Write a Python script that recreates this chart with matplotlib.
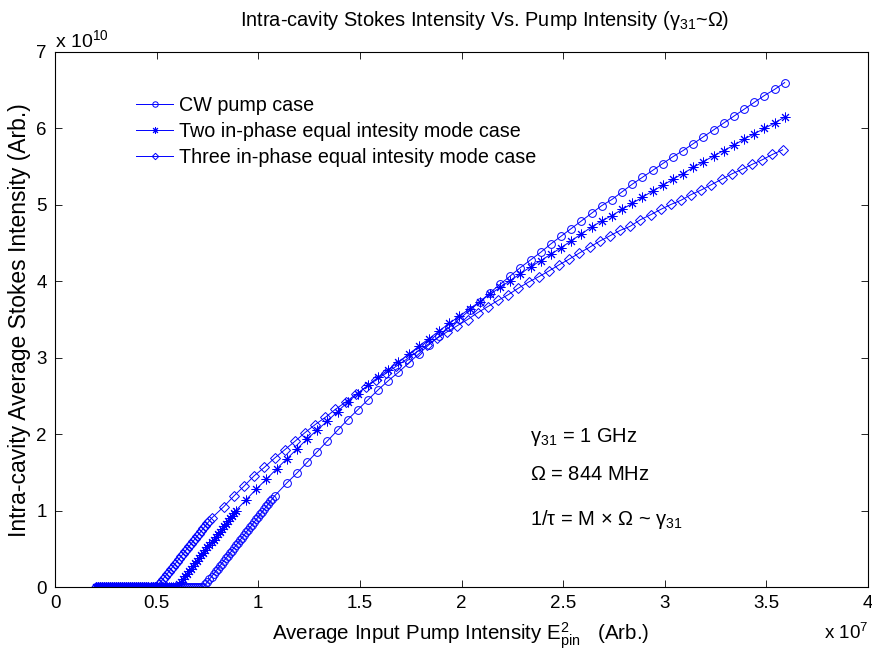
import numpy as np
import matplotlib
matplotlib.use("Agg")
import matplotlib.pyplot as plt

plt.rcParams['font.family'] = ['Liberation Sans', 'DejaVu Sans']
plt.rcParams['mathtext.fontset'] = 'custom'
plt.rcParams['mathtext.rm'] = 'Liberation Sans'
plt.rcParams['mathtext.it'] = 'Liberation Sans'
plt.rcParams['mathtext.bf'] = 'Liberation Sans'

# ---------------- data (x in units of 1e7, y in units of 1e10) ----------------
# fine sweep (step 0.01) near threshold
cw_x_fine = np.round(np.arange(0.20, 1.085, 0.01), 3)
cw_y_fine = [0.0] * 54 + [
    0.034, 0.068, 0.102, 0.136, 0.170, 0.204, 0.238, 0.272, 0.306, 0.340,
    0.374, 0.408, 0.442, 0.476, 0.510, 0.544, 0.578, 0.612, 0.646, 0.680,
    0.714, 0.748, 0.782, 0.816, 0.850, 0.884, 0.918, 0.952, 0.986, 1.020,
    1.054, 1.088, 1.122, 1.156, 1.190]
# coarse sweep (step 0.05)
cw_x_coarse = np.round(np.arange(1.14, 3.595, 0.05), 3)
cw_y_coarse = [
    1.36, 1.49, 1.63, 1.77, 1.91, 2.05, 2.19, 2.32, 2.45, 2.58,
    2.70, 2.81, 2.93, 3.05, 3.17, 3.28, 3.40, 3.51, 3.62, 3.73,
    3.85, 3.96, 4.07, 4.18, 4.28, 4.38, 4.49, 4.59, 4.69, 4.79,
    4.89, 4.99, 5.07, 5.17, 5.27, 5.36, 5.45, 5.54, 5.63, 5.71,
    5.80, 5.89, 5.98, 6.07, 6.16, 6.25, 6.34, 6.43, 6.51, 6.60]

two_x_fine = np.round(np.arange(0.20, 0.895, 0.01), 3)
two_y_fine = [0.0] * 41 + [
    0.034, 0.069, 0.103, 0.138, 0.172, 0.207, 0.241, 0.276, 0.310, 0.345,
    0.379, 0.414, 0.448, 0.483, 0.517, 0.552, 0.586, 0.621, 0.655, 0.690,
    0.724, 0.759, 0.793, 0.828, 0.862, 0.897, 0.931, 0.966, 1.000]
two_x_coarse = np.round(np.arange(0.94, 3.595, 0.05), 3)
two_y_coarse = [
    1.14, 1.28, 1.41, 1.545, 1.675, 1.805, 1.935, 2.055, 2.17, 2.295,
    2.42, 2.53, 2.64, 2.745, 2.845, 2.945, 3.045, 3.15, 3.25, 3.35,
    3.45, 3.545, 3.64, 3.735, 3.83, 3.92, 4.01, 4.10, 4.19, 4.27,
    4.355, 4.44, 4.53, 4.62, 4.71, 4.79, 4.86, 4.94, 5.02, 5.10,
    5.18, 5.255, 5.335, 5.41, 5.49, 5.565, 5.64, 5.71, 5.78, 5.86,
    5.93, 6.00, 6.07, 6.15]

three_x_fine = np.round(np.arange(0.20, 0.775, 0.01), 3)
three_y_fine = [0.0] * 31 + [
    0.033, 0.067, 0.100, 0.133, 0.167, 0.200, 0.233, 0.267, 0.300, 0.333,
    0.367, 0.400, 0.433, 0.467, 0.500, 0.533, 0.567, 0.600, 0.633, 0.667,
    0.700, 0.733, 0.767, 0.800, 0.833, 0.867, 0.900]
three_x_coarse = np.round(np.arange(0.83, 3.585, 0.05), 3)
three_y_coarse = [
    1.05, 1.19, 1.32, 1.455, 1.565, 1.685, 1.795, 1.905, 2.02, 2.125,
    2.22, 2.325, 2.42, 2.52, 2.615, 2.71, 2.80, 2.89, 2.98, 3.075,
    3.165, 3.255, 3.34, 3.42, 3.50, 3.59, 3.67, 3.75, 3.825, 3.91,
    3.99, 4.06, 4.135, 4.215, 4.29, 4.37, 4.445, 4.525, 4.595, 4.665,
    4.72, 4.805, 4.87, 4.94, 5.005, 5.06, 5.135, 5.195, 5.265, 5.335,
    5.405, 5.465, 5.53, 5.59, 5.66, 5.72]

labels = ["CW pump case",
          "Two in-phase equal intesity mode case",
          "Three in-phase equal intesity mode case"]
x_ticks = [0, 0.5, 1, 1.5, 2, 2.5, 3, 3.5, 4]
x_ticklabels = ["0", "0.5", "1", "1.5", "2", "2.5", "3", "3.5", "4"]
y_ticks = [0, 1, 2, 3, 4, 5, 6, 7]

# ---------------- figure ----------------
W, H = 872, 654
fig = plt.figure(figsize=(W / 100, H / 100), dpi=100)
ax = fig.add_axes([55 / W, 1 - 587 / H, (868 - 55) / W, (587 - 52) / H])

blue = (0, 0, 1)
series = [
    (np.concatenate([cw_x_fine, cw_x_coarse]), cw_y_fine + cw_y_coarse, 'o', 5.6),
    (np.concatenate([two_x_fine, two_x_coarse]), two_y_fine + two_y_coarse, (8, 2, 0), 7),
    (np.concatenate([three_x_fine, three_x_coarse]), three_y_fine + three_y_coarse, 'D', 4.7),
]
for (xs, ys, mk, ms), lab in zip(series, labels):
    ax.plot(xs, ys, color=blue, lw=0.7, marker=mk, ms=ms, mfc='none',
            mec=blue, mew=0.7, label=lab)

ax.set_xlim(0, 4)
ax.set_ylim(0, 7)
ax.set_xticks(x_ticks)
ax.set_xticklabels(x_ticklabels)
ax.set_yticks(y_ticks)
ax.tick_params(direction='in', top=True, right=True, length=5, width=0.6,
               labelsize=13.5, pad=6)
for s in ax.spines.values():
    s.set_linewidth(0.8)

fs = 14.2
leg = ax.legend(loc='upper left', bbox_to_anchor=(128 / W, 1 - 88 / H),
                bbox_transform=fig.transFigure, frameon=False, fontsize=fs,
                numpoints=1, handlelength=1.9, handletextpad=0.3,
                labelspacing=0.36, markerscale=0.7, borderaxespad=0)

ax.text(2.336, 1.96, r'$\mathregular{\gamma_{31}}$ = 1 GHz', fontsize=14.5, va='center')
ax.text(2.336, 1.47, r'$\mathregular{\Omega}$ = 844 MHz', fontsize=14.5, va='center')
ax.text(2.336, 0.88, r'1/$\mathregular{\tau}$ = M $\mathregular{\times}$ $\mathregular{\Omega}$ ~ $\mathregular{\gamma_{31}}$',
        fontsize=14.5, va='center')

fig.text(485 / W, 1 - 20 / H,
         r'Intra-cavity Stokes Intensity Vs. Pump Intensity ($\mathregular{\gamma_{31}}$~$\mathregular{\Omega}$)',
         ha='center', va='center', fontsize=14.4)
fig.text(461 / W, 1 - 636 / H,
         r'Average Input Pump Intensity $\mathregular{E^2_{pin}}$   (Arb.)',
         ha='center', va='center', fontsize=14.8)
fig.text(20 / W, 1 - 320 / H, 'Intra-cavity Average Stokes Intensity (Arb.)',
         ha='center', va='center', rotation=90, fontsize=16.5)
fig.text(55 / W, 1 - 40 / H, r'x 10$^{\mathregular{10}}$', ha='left', va='center', fontsize=14)
fig.text(868 / W, 1 - 633 / H, r'x 10$^{\mathregular{7}}$', ha='right', va='center', fontsize=13.5)

fig.savefig('out.png', dpi=100)
